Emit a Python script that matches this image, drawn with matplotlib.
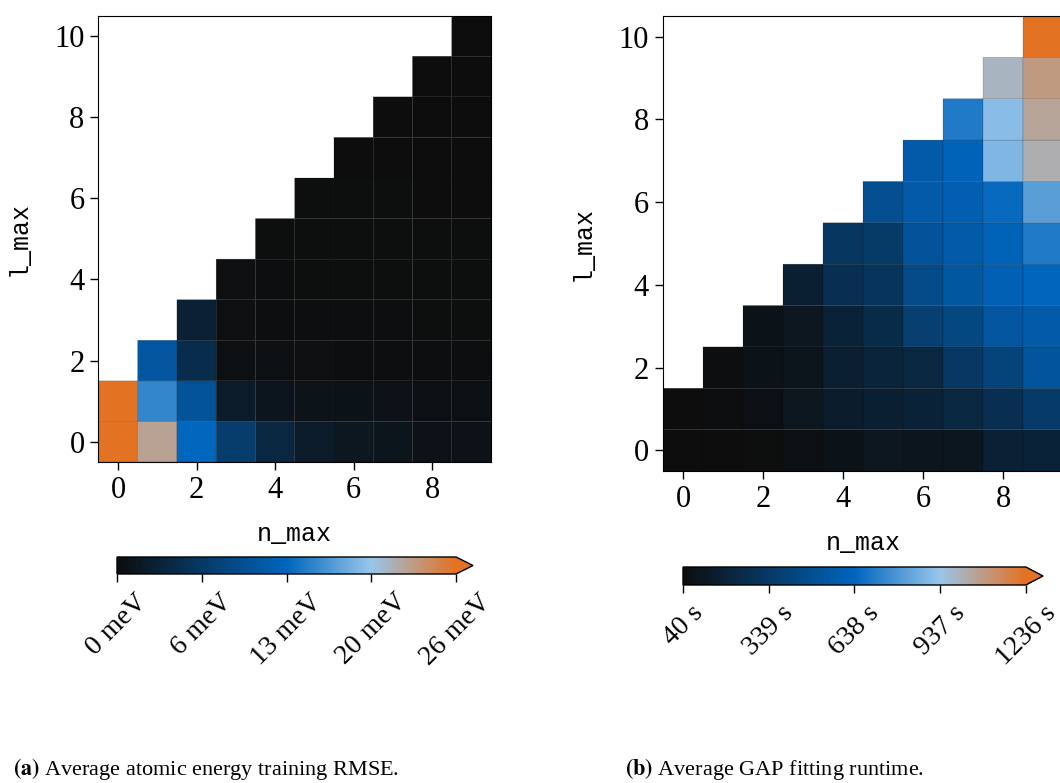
import numpy as np
import matplotlib.pyplot as plt
from matplotlib.colors import LinearSegmentedColormap

nan = np.nan

n_max = np.arange(10)
l_max = np.arange(11)

# average atomic energy training RMSE [meV], rows l_max = 0..10, columns n_max = 0..9
rmse = [
    [29.5, 22.3, 13.1, 7.1, 3.8, 2.1, 1.5, 1.2, 0.8, 0.8],
    [28.1, 15.2, 10.4, 2.1, 1.3, 0.95, 0.9, 0.75, 0.6, 0.45],
    [nan, 10.8, 4.7, 0.5, 0.45, 0.35, 0.3, 0.3, 0.3, 0.3],
    [nan, nan, 3.0, 0.4, 0.3, 0.3, 0.25, 0.25, 0.2, 0.2],
    [nan, nan, nan, 0.35, 0.25, 0.2, 0.2, 0.2, 0.2, 0.2],
    [nan, nan, nan, nan, 0.2, 0.2, 0.15, 0.15, 0.15, 0.15],
    [nan, nan, nan, nan, nan, 0.15, 0.15, 0.15, 0.1, 0.1],
    [nan, nan, nan, nan, nan, nan, 0.1, 0.1, 0.1, 0.1],
    [nan, nan, nan, nan, nan, nan, nan, 0.1, 0.1, 0.1],
    [nan, nan, nan, nan, nan, nan, nan, nan, 0.1, 0.1],
    [nan, nan, nan, nan, nan, nan, nan, nan, nan, 0.1],
]

# average GAP fitting runtime [s]
runtime = [
    [40, 43, 47, 60, 81, 110, 100, 105, 175, 189],
    [41, 53, 64, 107, 148, 162, 189, 216, 270, 357],
    [nan, 53, 81, 94, 168, 202, 216, 331, 411, 527],
    [nan, nan, 81, 107, 189, 250, 378, 439, 533, 567],
    [nan, nan, nan, 162, 270, 303, 459, 540, 601, 634],
    [nan, nan, nan, nan, 324, 351, 519, 567, 621, 701],
    [nan, nan, nan, nan, nan, 486, 567, 594, 653, 815],
    [nan, nan, nan, nan, nan, nan, 567, 621, 886, 1023],
    [nan, nan, nan, nan, nan, nan, nan, 701, 906, 1054],
    [nan, nan, nan, nan, nan, nan, nan, nan, 1000, 1094],
    [nan, nan, nan, nan, nan, nan, nan, nan, nan, 1236],
]

rmse_range = (0, 26)
runtime_range = (40, 1236)

plt.rcParams['font.family'] = 'Liberation Serif'
plt.rcParams['mathtext.fontset'] = 'stix'
plt.rcParams['font.size'] = 21

# black -> blue -> light blue -> orange
cmap = LinearSegmentedColormap.from_list(
    'tum', [(0, '#0d0d0d'), (0.5, '#0065BD'), (0.75, '#98C6EA'), (1, '#E37222')])
cmap.set_over('#E37222')

W, H = 1060, 783
fig = plt.figure(figsize=(W / 100, H / 100), dpi=100)


def box(x0, y0, x1, y1):
    # pixel box -> figure fraction
    return [x0 / W, 1 - y1 / H, (x1 - x0) / W, (y1 - y0) / H]


def panel(ax_box, cax_box, data, vrange, unit):
    ax = fig.add_axes(box(*ax_box))
    z = np.ma.masked_invalid(np.array(data, dtype=float))
    mesh = ax.pcolor(n_max, l_max, z, cmap=cmap, vmin=vrange[0], vmax=vrange[1],
                     shading='nearest', edgecolors=(0, 0, 0, 0.25), linewidth=0.4)
    ax.set_xlim(-0.5, 9.5)
    ax.set_ylim(-0.5, 10.5)
    ax.set_xticks([0, 2, 4, 6, 8])
    ax.set_yticks([0, 2, 4, 6, 8, 10])
    ax.tick_params(length=6, width=1, pad=4, labelsize=22)
    ax.set_xlabel('n_max', family='Liberation Mono', fontsize=18, labelpad=12)
    ax.set_ylabel('l_max', family='Liberation Mono', fontsize=18, labelpad=17)

    cax = fig.add_axes(box(*cax_box))
    ticks = np.linspace(vrange[0], vrange[1], 5)
    cb = fig.colorbar(mesh, cax=cax, orientation='horizontal', extend='max', ticks=ticks)
    cb.ax.set_xticklabels([f'{t:.0f} {unit}' for t in ticks], rotation=45)
    cb.ax.tick_params(length=6, width=1, labelsize=20, pad=5)
    cb.outline.set_linewidth(1)
    return ax


panel((98.4, 15.7, 491, 462), (117, 557, 473, 574), rmse, rmse_range, 'meV')
panel((663, 16, 1063, 471), (683, 567, 1043, 585), runtime, runtime_range, 's')

fig.text(13 / W, 1 - 775 / H, r'$\mathbf{(a)}$ Average atomic energy training RMSE.',
         fontsize=16, va='baseline')
fig.text(625 / W, 1 - 775 / H, r'$\mathbf{(b)}$ Average GAP fitting runtime.',
         fontsize=16, va='baseline')

fig.savefig('out.png', dpi=100)
